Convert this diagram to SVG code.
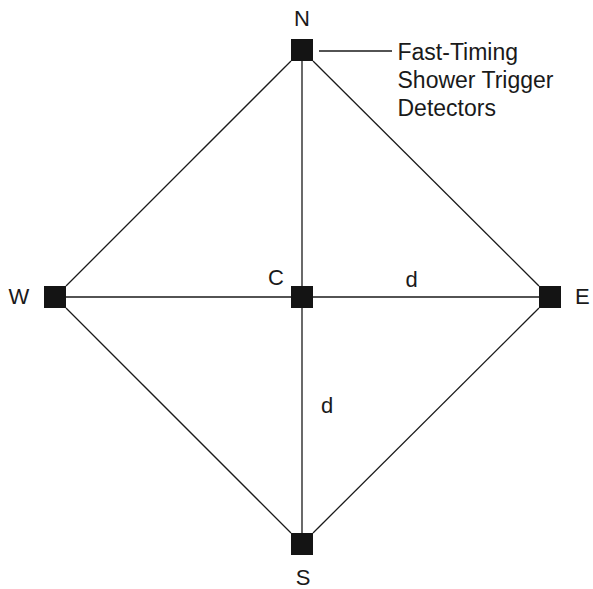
<svg xmlns="http://www.w3.org/2000/svg" width="593" height="589" viewBox="0 0 593 589">
<style>
.det{fill:#141414;}
.ln{stroke:#1a1a1a;stroke-width:1.3;fill:none;}
.lbl{font-family:"Liberation Sans",Arial,sans-serif;font-size:22px;fill:#1a1a1a;}
.note{font-family:"Liberation Sans",Arial,sans-serif;font-size:23px;fill:#1a1a1a;}
</style>
<rect width="593" height="589" fill="#ffffff"/>
<g id="connectors">
<line class="ln" x1="302" y1="61" x2="302" y2="533"/>
<line class="ln" x1="66" y1="297" x2="539" y2="297"/>
<line class="ln" x1="291" y1="61" x2="66" y2="286"/>
<line class="ln" x1="313" y1="61" x2="539" y2="286"/>
<line class="ln" x1="66" y1="308" x2="291" y2="533"/>
<line class="ln" x1="539" y1="308" x2="313" y2="533"/>
<line class="ln" x1="319" y1="51" x2="392" y2="51"/>
</g>
<g id="node-N">
<rect class="det" x="291" y="39" width="22" height="22"/>
<text class="lbl" x="302" y="26" text-anchor="middle">N</text>
</g>
<g id="node-W">
<rect class="det" x="44" y="286" width="22" height="22"/>
<text class="lbl" x="19" y="303.5" text-anchor="middle">W</text>
</g>
<g id="node-C">
<rect class="det" x="291" y="286" width="22" height="22"/>
<text class="lbl" x="276" y="285" text-anchor="middle">C</text>
</g>
<g id="node-E">
<rect class="det" x="539" y="286" width="22" height="22"/>
<text class="lbl" x="575" y="303.5">E</text>
</g>
<g id="node-S">
<rect class="det" x="291" y="533" width="22" height="22"/>
<text class="lbl" x="303" y="584.5" text-anchor="middle">S</text>
</g>
<g id="label-d-h">
<text class="lbl" x="411.5" y="287" text-anchor="middle">d</text>
</g>
<g id="label-d-v">
<text class="lbl" x="327" y="412.5" text-anchor="middle">d</text>
</g>
<g id="label-detectors">
<text class="note" x="397.5" y="60">Fast-Timing</text>
<text class="note" x="397.5" y="88">Shower Trigger</text>
<text class="note" x="397.5" y="115.5">Detectors</text>
</g>
</svg>
